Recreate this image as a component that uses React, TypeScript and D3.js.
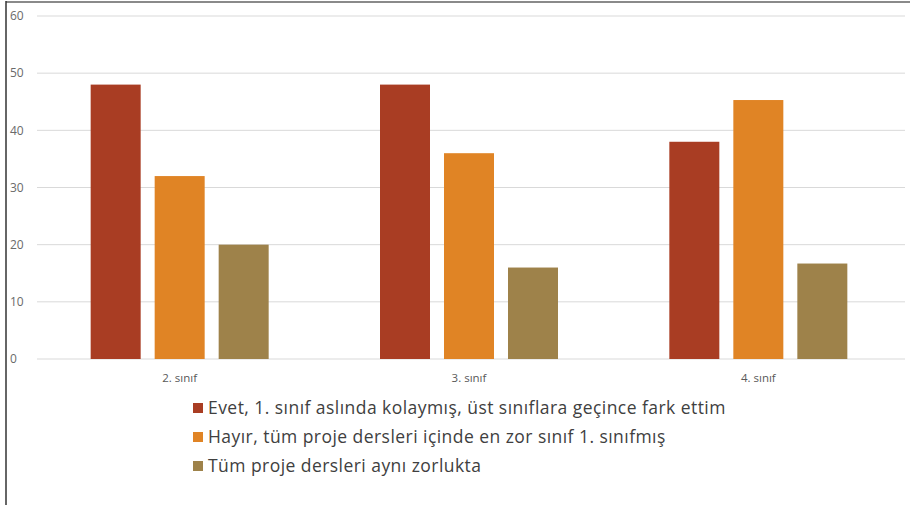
import React from "react";
import * as d3 from "d3";

const categories = ["2. sınıf", "3. sınıf", "4. sınıf"];
const seriesNames = [
  "Evet, 1. sınıf aslında kolaymış, üst sınıflara geçince fark ettim",
  "Hayır, tüm proje dersleri içinde en zor sınıf 1. sınıfmış",
  "Tüm proje dersleri aynı zorlukta",
];
const evet = [48, 48, 38];
const hayir = [32, 36, 45.3];
const ayni = [20, 16, 16.7];
const yTicks = [0, 10, 20, 30, 40, 50, 60];
const colors = ["#A93D23", "#E08425", "#9E824A"];

export default function App() {
  const W = 910, H = 505;
  const gx0 = 37, gx1 = 905, yTop = 16, yBot = 359;
  const series = [evet, hayir, ayni];
  const x = d3.scaleBand().domain(categories).range([35, 903]).paddingInner(0).paddingOuter(0);
  const y = d3.scaleLinear().domain([0, 60]).range([yBot, yTop]);
  const barW = 50, gap = 14;
  const groupW = 3 * barW + 2 * gap;
  const font = "'Open Sans', sans-serif";
  return (
    <svg width={W} height={H} style={{ position: "absolute", left: 0, top: 0, background: "#fff" }}>
      <line x1={6} x2={W} y1={2} y2={2} stroke="#8a8a8a" strokeWidth={2} />
      <line x1={6} x2={6} y1={1} y2={H} stroke="#333" strokeWidth={1.5} />
      {yTicks.map((t) => (
        <g key={t}>
          <line x1={gx0} x2={gx1} y1={y(t)} y2={y(t)} stroke="#d9d9d9" strokeWidth={1} />
          <text x={10} y={y(t)} dy="0.35em" fontSize={12} fill="#6a6a6a" fontFamily={font}>{t}</text>
        </g>
      ))}
      {categories.map((c, i) => {
        const cx = (x(c) as number) + x.bandwidth() / 2;
        const start = cx - groupW / 2;
        return (
          <g key={c}>
            {series.map((s, j) => (
              <rect key={j} x={start + j * (barW + gap)} width={barW} y={y(s[i])} height={yBot - y(s[i])} fill={colors[j]} />
            ))}
            <text x={cx} y={382} textAnchor="middle" fontSize={11.5} fill="#595959" fontFamily={font}>{c}</text>
          </g>
        );
      })}
      {seriesNames.map((n, j) => (
        <g key={n} transform={`translate(193, ${408 + j * 29})`}>
          <rect x={0} y={-5} width={10} height={10} fill={colors[j]} />
          <text x={15} y={0} dy="0.35em" fontSize={17.5} letterSpacing={0.45} fill="#404040" fontFamily={font}>{n}</text>
        </g>
      ))}
    </svg>
  );
}
